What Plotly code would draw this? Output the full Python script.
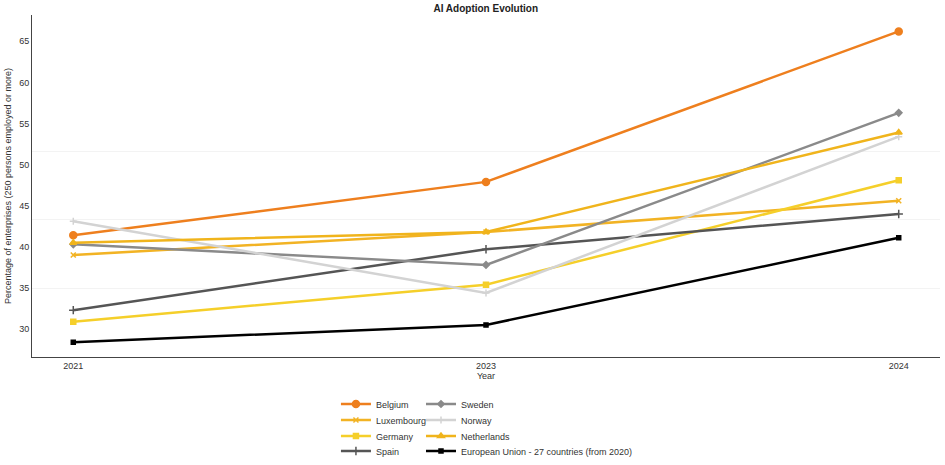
import plotly.graph_objects as go

years = ["2021", "2023", "2024"]

belgium = [41.4, 47.9, 66.2]
luxembourg = [39.0, 41.8, 45.6]
germany = [30.9, 35.4, 48.1]
spain = [32.3, 39.7, 44.0]
sweden = [40.3, 37.8, 56.3]
norway = [43.1, 34.4, 53.4]
netherlands = [40.5, 41.8, 53.9]
eu27 = [28.4, 30.5, 41.1]

# name, values, colour, marker, marker size, legend column, legend row
series = [
	("Belgium", belgium, "#EE7F1E", "circle", 7, 0, 0),
	("Luxembourg", luxembourg, "#F2B324", "x-thin-open", 5, 0, 1),
	("Germany", germany, "#F5CF2A", "square", 5, 0, 2),
	("Spain", spain, "#555555", "cross-thin-open", 6, 0, 3),
	("Sweden", sweden, "#8A8A8A", "diamond", 5, 1, 0),
	("Norway", norway, "#D3D3D3", "cross-thin-open", 5, 1, 1),
	("Netherlands", netherlands, "#F0B41C", "triangle-up", 6, 1, 2),
	("European Union - 27 countries (from 2020)", eu27, "#000000", "square", 4, 1, 3),
]

col_x = [0.3555, 0.4455]
row_px = [404, 420, 436, 451]

fig = go.Figure()
legends = {}
for i, (name, vals, col, sym, size, c, r) in enumerate(series):
	key = "legend" if i == 0 else "legend%d" % (i + 1)
	legends[key] = dict(
		orientation="v", xref="container", yref="container",
		x=col_x[c], xanchor="left", y=1 - row_px[r] / 465, yanchor="middle",
		font=dict(size=9, color="#333333"), bgcolor="rgba(0,0,0,0)",
	)
	fig.add_trace(go.Scatter(
		x=years, y=vals, name=name, mode="lines+markers",
		line=dict(color=col, width=2.5),
		marker=dict(color=col, symbol=sym, size=size, line=dict(color=col, width=1.5)),
		legend=key,
	))

fig.update_layout(
	width=945, height=465,
	margin=dict(l=32, r=5, t=15, b=108, autoexpand=False),
	paper_bgcolor="white", plot_bgcolor="white",
	font=dict(family="Liberation Sans, Arial, sans-serif", size=9, color="#333333"),
	title=dict(text="<b>AI Adoption Evolution</b>", x=0.514, xanchor="center",
		y=0.981, yanchor="middle", font=dict(size=10, color="#222222")),
	showlegend=True,
	**legends,
)

# y-axis title as a rotated note, kept in the left margin
fig.add_annotation(
	text="Percentage of enterprises (250 persons employed or more)",
	xref="paper", yref="paper", x=-0.0264, y=0.5, textangle=-90,
	xanchor="center", yanchor="middle",
	showarrow=False, font=dict(size=9, color="#333333"),
)

fig.update_xaxes(
	type="category", range=[-0.1, 2.1],
	title=dict(text="Year", font=dict(size=9), standoff=2),
	showline=True, linecolor="#444444", linewidth=1,
	showgrid=False, ticks="", tickfont=dict(size=9),
)
fig.update_yaxes(
	range=[26.6, 68.2], dtick=5, tick0=30,
	automargin=False,
	showline=True, linecolor="#444444", linewidth=1,
	showgrid=False, zeroline=False, ticks="", tickfont=dict(size=9),
	minor=dict(showgrid=True, gridcolor="#f3f3f3", gridwidth=1, tick0=60, dtick=8.35),
)

fig.write_html("out.html", config={"displayModeBar": False},
	post_script="document.body.style.margin='0';")
